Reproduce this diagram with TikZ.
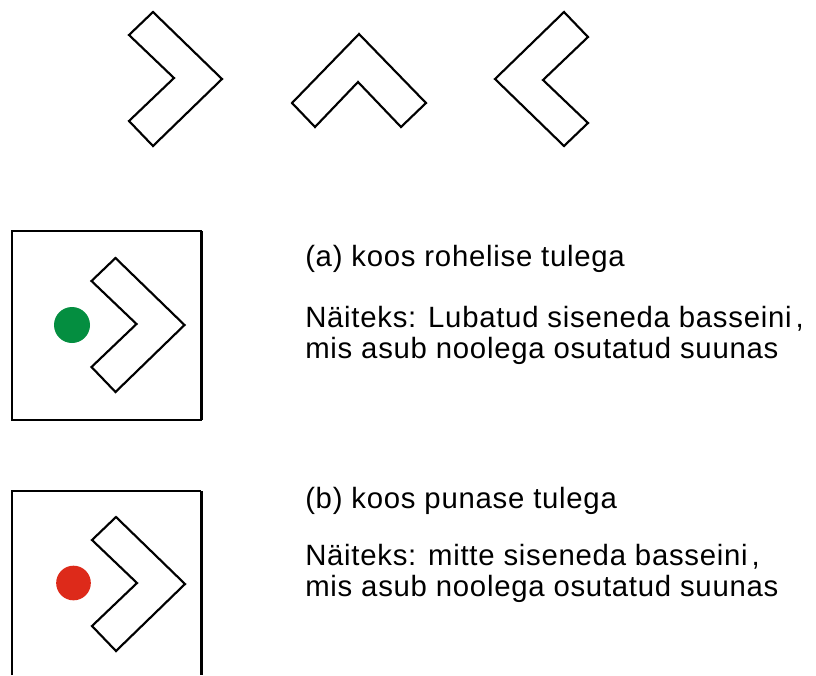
\documentclass[tikz,border=0pt]{standalone}
\usepackage{fontspec}
\setmainfont{Liberation Sans}
\definecolor{lightgreen}{RGB}{4,142,64}
\definecolor{lightred}{RGB}{221,42,26}
\tikzset{
  chevron line/.style={line width=1.6pt, line join=miter},
  chevron/.pic={\draw[chevron line] (0,0) -- (-69,-67) -- (-93,-44) -- (-48,-1) -- (-93,42) -- (-69,67) -- cycle;},
  caption/.style={anchor=base west, inner sep=0pt, align=left,
    font=\fontsize{22}{23.6}\selectfont\addfontfeature{LetterSpace=2.5}},
  light/.style={circle, inner sep=0pt, minimum size=27pt},
  frame/.style={line width=1pt},
}
\begin{document}
\begin{tikzpicture}[x=0.75pt, y=-0.75pt]
\useasboundingbox (0,0) rectangle (816,675);

% top row: three directions
\pic at (222,79) {chevron};
\pic[rotate=90] at (359,34) {chevron};
\pic[rotate=180] at (495,79) {chevron};

% (a) green light
\draw[frame] (12,231) rectangle (201,420);
\draw[line width=1.8pt] (201.5,231) -- (201.5,420);
\node[light, fill=lightgreen] (greenlight) at (72,325) {};
\pic at (184.5,325) {chevron};
\node[caption] (greenhead) at (305,266.5) {(a) koos rohelise tulega};
% base of a two-line node is its last line
\node[caption] (greentext) at (305,358.5) {Näiteks: Lubatud siseneda basseini\kern3pt,\\mis asub noolega osutatud suunas};

% (b) red light
\draw[frame] (12,675) -- (12,491) -- (201,491);
\draw[line width=1.8pt] (201.5,491) -- (201.5,675);
\node[light, fill=lightred, minimum size=26pt] (redlight) at (73.5,583) {};
\pic at (185,584) {chevron};
\node[caption] (redhead) at (305,508) {(b) koos punase tulega};
\node[caption] (redtext) at (305,596.5) {Näiteks: mitte siseneda basseini\kern3pt,\\mis asub noolega osutatud suunas};
\end{tikzpicture}
\end{document}
